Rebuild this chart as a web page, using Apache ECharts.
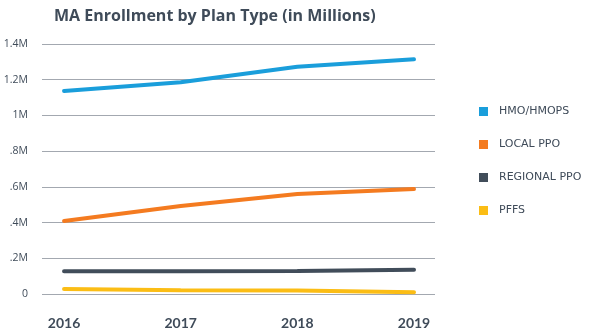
<!DOCTYPE html>
<html>
<head>
<meta charset="utf-8">
<script src="https://cdn.jsdelivr.net/npm/echarts@6/dist/echarts.min.js"></script>
<style>html,body{margin:0;padding:0;background:#fff}#c{width:600px;height:331px}</style>
</head>
<body>
<div id="c"></div>
<script>
const years = [2016, 2017, 2018, 2019];
const hmo = [1.137, 1.186, 1.273, 1.314];
const localPpo = [0.409, 0.493, 0.560, 0.588];
const regionalPpo = [0.127, 0.128, 0.129, 0.136];
const pffs = [0.028, 0.021, 0.020, 0.010];
const seriesNames = ['HMO/HMOPS', 'LOCAL PPO', 'REGIONAL PPO', 'PFFS'];
const colors = ['#1a9edb', '#f47b20', '#414d5a', '#fbbd15'];
const yTickLabels = {0: '0', 0.2: '.2M', 0.4: '.4M', 0.6: '.6M', 0.8: '.8M', 1: '1M', 1.2: '1.2M', 1.4: '1.4M'};

const font = 'Lato, "Open Sans", sans-serif';
const wideFont = '"Open Sans", sans-serif';
const legendFont = '"DejaVu Sans", sans-serif';
const pair = arr => years.map((y, i) => [y, arr[i]]);
const allData = [hmo, localPpo, regionalPpo, pffs];

const chart = echarts.init(document.getElementById('c'));
chart.setOption({
  animation: false,
  title: {
    text: 'MA Enrollment by Plan Type (in Millions)',
    left: 49, top: 3,
    textStyle: {fontFamily: wideFont, fontWeight: 'bold', fontSize: 16, color: '#3f4b59'}
  },
  legend: {
    orient: 'vertical', left: 474, top: 101, itemGap: 22,
    itemWidth: 9, itemHeight: 9, icon: 'rect',
    textStyle: {fontFamily: legendFont, fontSize: 11, color: '#3f4b59', padding: [0, 0, 0, 6]},
    data: seriesNames
  },
  grid: {left: 42, right: 165, top: 44, bottom: 37},
  xAxis: {
    type: 'value', min: 2015.811, max: 2019.18,
    splitLine: {show: false}, axisLine: {show: false}, axisTick: {show: false},
    axisLabel: {customValues: years, fontFamily: font, fontWeight: 'bold', fontSize: 14, color: '#3f4b59', margin: 22,
      formatter: v => String(v)}
  },
  yAxis: {
    type: 'value', min: 0, max: 1.4, interval: 0.2,
    axisLine: {show: false}, axisTick: {show: false},
    splitLine: {lineStyle: {color: '#a3a8b0', width: 1}},
    axisLabel: {fontFamily: wideFont, fontSize: 10.5, color: '#3f4b59', margin: 14,
      formatter: v => yTickLabels[Math.round(v * 10) / 10] ?? ''}
  },
  series: allData.map((d, i) => ({
    name: seriesNames[i], type: 'line', data: pair(d),
    color: colors[i], symbol: 'none',
    lineStyle: {width: 4, color: colors[i], cap: 'round'}
  }))
});
</script>
</body>
</html>
